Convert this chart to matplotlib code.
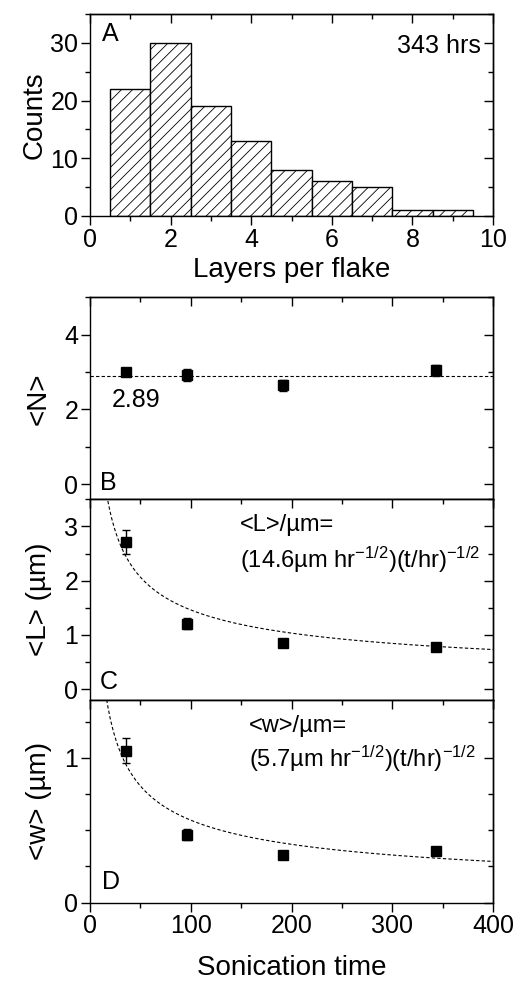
import matplotlib
matplotlib.use('Agg')
import matplotlib.pyplot as plt
import numpy as np
from matplotlib.ticker import MultipleLocator

plt.rcParams['font.family'] = ['Liberation Sans', 'DejaVu Sans']
plt.rcParams['mathtext.fontset'] = 'custom'
plt.rcParams['mathtext.rm'] = 'Liberation Sans'
plt.rcParams['mathtext.it'] = 'Liberation Sans'
plt.rcParams['hatch.linewidth'] = 0.6
plt.rcParams['axes.linewidth'] = 1.0

# 層数ヒストグラム (343 hrs)
layers = [1, 2, 3, 4, 5, 6, 7, 8, 9]
counts = [22, 30, 19, 13, 8, 6, 5, 1, 1]

# 超音波処理時間 [hr]
t_soni = [36, 96, 192, 343]
N_mean = [3.0, 2.92, 2.65, 3.05]
N_err = [0.1, 0.15, 0.15, 0.15]
L_mean = [2.71, 1.21, 0.85, 0.77]
L_err = [0.22, 0.1, 0.05, 0.05]
w_mean = [1.05, 0.47, 0.33, 0.36]
w_err = [0.085, 0.04, 0.015, 0.015]

N_fit = 2.89
L_coef = 14.6
w_coef = 5.7

TICK = 18
LAB = 20
TXT = 18
EQ = 17


def style_ticks(ax, xmaj, xmin, ymaj, ymin, xlabels=True):
    ax.xaxis.set_major_locator(MultipleLocator(xmaj))
    ax.xaxis.set_minor_locator(MultipleLocator(xmin))
    ax.yaxis.set_major_locator(MultipleLocator(ymaj))
    ax.yaxis.set_minor_locator(MultipleLocator(ymin))
    ax.tick_params(which='major', direction='out', length=6.5, width=1.0,
                   labelsize=TICK, labelbottom=xlabels, pad=2)
    ax.tick_params(which='minor', direction='out', length=3.5, width=1.0)
    # 上と右は内向き
    sx = ax.secondary_xaxis('top')
    sx.xaxis.set_major_locator(MultipleLocator(xmaj))
    sx.xaxis.set_minor_locator(MultipleLocator(xmin))
    sx.tick_params(which='major', direction='in', length=6.5, width=1.0, labeltop=False)
    sx.tick_params(which='minor', direction='in', length=3.5, width=1.0)
    sy = ax.secondary_yaxis('right')
    sy.yaxis.set_major_locator(MultipleLocator(ymaj))
    sy.yaxis.set_minor_locator(MultipleLocator(ymin))
    sy.tick_params(which='major', direction='in', length=6.5, width=1.0, labelright=False)
    sy.tick_params(which='minor', direction='in', length=3.5, width=1.0)


fig = plt.figure(figsize=(5.17, 9.83), dpi=100)
left, width = 0.1741, 0.7795
axA = fig.add_axes([left, 0.7803, width, 0.2055])
axB = fig.add_axes([left, 0.4921, width, 0.2055])
axC = fig.add_axes([left, 0.2879, width, 0.2042])
axD = fig.add_axes([left, 0.0817, width, 0.2062])

# A: ヒストグラム
axA.bar(layers, counts, width=1.0, color='white', edgecolor='black',
        hatch='///', linewidth=1.0)
axA.set_xlim(0, 10)
axA.set_ylim(0, 35)
style_ticks(axA, 2, 1, 10, 5)
axA.set_xlabel('Layers per flake', fontsize=LAB, labelpad=4)
axA.set_ylabel('Counts', fontsize=LAB, labelpad=2)
axA.text(0.03, 0.9, 'A', transform=axA.transAxes, fontsize=TXT, va='center')
axA.text(0.97, 0.84, '343 hrs', transform=axA.transAxes, fontsize=TXT,
         ha='right', va='center')

# B, C, D: 共通のx軸
tt = np.linspace(5, 400, 400)
ekw = dict(fmt='s', color='black', markersize=7, capsize=3, elinewidth=1.0,
           capthick=1.0)

axB.errorbar(t_soni, N_mean, yerr=N_err, **ekw)
axB.axhline(N_fit, color='black', linestyle=(0, (3, 2)), linewidth=0.8)
axB.set_ylim(-0.4, 5)
axB.set_ylabel('<N>', fontsize=LAB, labelpad=9)
axB.text(0.055, 0.49, '2.89', transform=axB.transAxes, fontsize=TXT, va='center')
axB.text(0.025, 0.08, 'B', transform=axB.transAxes, fontsize=TXT, va='center')

axC.errorbar(t_soni, L_mean, yerr=L_err, **ekw)
axC.plot(tt, L_coef / np.sqrt(tt), color='black', linestyle=(0, (3, 2)),
         linewidth=0.8)
axC.set_ylim(-0.2, 3.5)
axC.set_ylabel(r'<L> (µm)', fontsize=LAB, labelpad=9)
axC.text(0.025, 0.09, 'C', transform=axC.transAxes, fontsize=TXT, va='center')
axC.text(0.373, 0.87, '<L>/µm=', transform=axC.transAxes, fontsize=EQ, va='center')
axC.text(0.373, 0.70, r'(14.6µm hr$^{\mathregular{-1/2}}$)(t/hr)$^{\mathregular{-1/2}}$',
         transform=axC.transAxes, fontsize=EQ, va='center')

axD.errorbar(t_soni, w_mean, yerr=w_err, **ekw)
axD.plot(tt, w_coef / np.sqrt(tt), color='black', linestyle=(0, (3, 2)),
         linewidth=0.8)
axD.set_ylim(0, 1.4)
axD.set_ylabel(r'<w> (µm)', fontsize=LAB, labelpad=9)
axD.text(0.03, 0.1, 'D', transform=axD.transAxes, fontsize=TXT, va='center')
axD.text(0.395, 0.87, '<w>/µm=', transform=axD.transAxes, fontsize=EQ, va='center')
axD.text(0.395, 0.71, r'(5.7µm hr$^{\mathregular{-1/2}}$)(t/hr)$^{\mathregular{-1/2}}$',
         transform=axD.transAxes, fontsize=EQ, va='center')
axD.set_xlabel('Sonication time', fontsize=LAB, labelpad=12)

for ax in (axB, axC, axD):
    ax.set_xlim(0, 400)
style_ticks(axB, 100, 50, 2, 1, xlabels=False)
style_ticks(axC, 100, 50, 1, 0.5, xlabels=False)
style_ticks(axD, 100, 50, 1, 0.25)

fig.savefig('out.png', dpi=100)
